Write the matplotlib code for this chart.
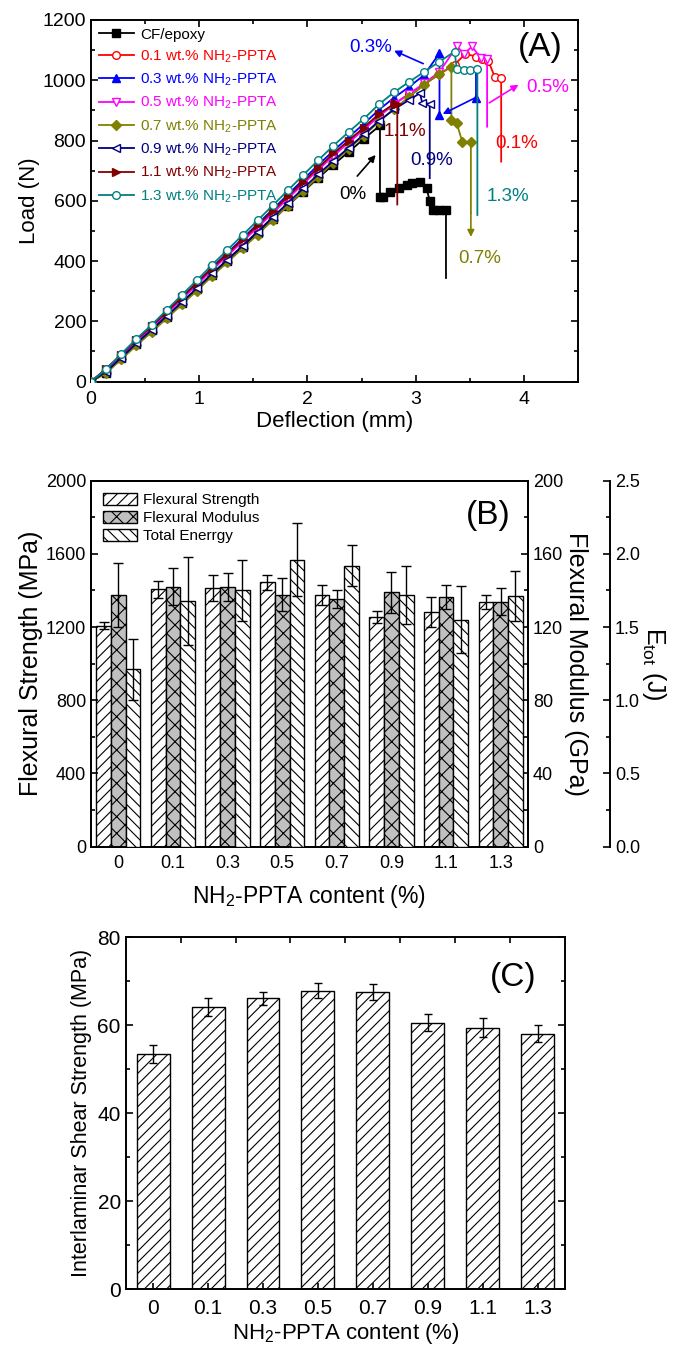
import numpy as np
import matplotlib
matplotlib.use('Agg')
import matplotlib.pyplot as plt
from matplotlib.ticker import MultipleLocator
from matplotlib.patches import Patch

plt.rcParams['font.family'] = ['Liberation Sans', 'DejaVu Sans']
plt.rcParams['mathtext.fontset'] = 'custom'
plt.rcParams['mathtext.rm'] = 'Liberation Sans'
plt.rcParams['mathtext.it'] = 'Liberation Sans:italic'
plt.rcParams['hatch.linewidth'] = 0.8
plt.rcParams['axes.linewidth'] = 1.4

# ---------------- (A) load / deflection curves ----------------
defl = [0.00, 0.14, 0.28, 0.42, 0.56, 0.70, 0.84, 0.98, 1.12, 1.26, 1.40, 1.54,
        1.68, 1.82, 1.96, 2.10, 2.24, 2.38, 2.52, 2.66, 2.80, 2.94, 3.08, 3.22, 3.36]

rise_0 = [0, 30, 78, 126, 170, 216, 262, 308, 355, 400, 446, 492, 538, 584, 630, 676, 720, 762, 805]
post_0_x = [2.67, 2.67, 2.70, 2.76, 2.85, 2.92, 2.97, 3.04, 3.10, 3.13, 3.16, 3.22, 3.28, 3.28]
post_0_y = [850, 612, 614, 630, 642, 653, 658, 663, 642, 600, 570, 568, 570, 344]

rise_01 = [0, 42, 88, 136, 180, 228, 276, 323, 372, 419, 466, 513, 561, 609, 657, 705, 751, 795,
           837, 882, 921, 955, 987, 1020, 1052]
post_01_x = [3.46, 3.56, 3.61, 3.67, 3.73, 3.79, 3.79]
post_01_y = [1088, 1078, 1070, 1065, 1012, 1007, 730]

rise_03 = [0, 40, 88, 137, 183, 232, 281, 329, 379, 427, 475, 523, 572, 621, 670, 719, 766, 811,
           855, 902, 942, 978, 1018]
post_03_x = [3.22, 3.22]
post_03_y = [1090, 885]

rise_05 = [0, 38, 85, 133, 178, 226, 274, 322, 371, 418, 465, 512, 560, 608, 656, 703, 749, 793,
           836, 880, 920, 955, 990, 1028]
post_05_x = [3.38, 3.45, 3.52, 3.60, 3.66, 3.66]
post_05_y = [1112, 1088, 1112, 1075, 1070, 846]

rise_07 = [0, 28, 74, 120, 164, 210, 256, 302, 350, 396, 442, 488, 536, 584, 632, 680, 727, 772,
           816, 862, 905, 945, 985, 1022]
post_07_x = [3.33, 3.33, 3.38, 3.43, 3.51, 3.51]
post_07_y = [1045, 868, 857, 796, 796, 560]

rise_09 = [0, 33, 80, 127, 172, 218, 264, 311, 359, 405, 451, 498, 546, 593, 641, 688, 733, 776,
           820, 865, 903, 935]
post_09_x = [3.04, 3.06, 3.13, 3.13]
post_09_y = [957, 925, 922, 675]

rise_11 = [0, 43, 90, 139, 184, 232, 280, 328, 377, 424, 472, 519, 567, 615, 663, 710, 757, 800,
           843, 888]
post_11_x = [2.81, 2.83, 2.83]
post_11_y = [924, 922, 588]

rise_13 = [0, 41, 92, 142, 188, 238, 288, 337, 388, 437, 486, 535, 585, 635, 685, 735, 783, 828,
           872, 920, 960, 995, 1028, 1062]
post_13_x = [3.36, 3.38, 3.45, 3.50, 3.57, 3.57]
post_13_y = [1095, 1036, 1034, 1034, 1036, 553]

labels_a = ['CF/epoxy', '0.1 wt.% NH$_2$-PPTA', '0.3 wt.% NH$_2$-PPTA', '0.5 wt.% NH$_2$-PPTA',
            '0.7 wt.% NH$_2$-PPTA', '0.9 wt.% NH$_2$-PPTA', '1.1 wt.% NH$_2$-PPTA',
            '1.3 wt.% NH$_2$-PPTA']
short_a = ['0%', '0.1%', '0.3%', '0.5%', '0.7%', '0.9%', '1.1%', '1.3%']

# ---------------- (B) flexural properties ----------------
content = ['0', '0.1', '0.3', '0.5', '0.7', '0.9', '1.1', '1.3']
strength = [1208, 1406, 1415, 1445, 1375, 1255, 1284, 1336]
strength_err = [18, 47, 70, 40, 55, 33, 82, 39]
modulus = [137.5, 142.0, 141.7, 137.7, 135.5, 139.0, 136.6, 133.9]
modulus_err = [17.7, 10.0, 7.7, 9.0, 5.0, 11.3, 6.6, 7.3]
energy = [1.21, 1.68, 1.75, 1.96, 1.92, 1.72, 1.55, 1.71]
energy_err = [0.21, 0.30, 0.21, 0.25, 0.14, 0.20, 0.23, 0.17]

# ---------------- (C) ILSS ----------------
ilss = [53.5, 64.1, 66.1, 67.9, 67.6, 60.6, 59.5, 58.1]
ilss_err = [2.0, 2.0, 1.5, 1.8, 1.8, 2.0, 2.2, 2.0]

fig = plt.figure(figsize=(6.74, 13.49), dpi=100)

# ======== panel A ========
ax = fig.add_axes([0.135, 0.7171, 0.7226, 0.2681])
colors = ['black', '#ff0000', '#0000ff', '#ff00ff', '#808000', '#000080', '#800000', '#008080']
markers = ['s', 'o', '^', 'v', 'D', '<', '>', 'o']
filled = [True, False, True, False, True, False, True, False]
rises = [rise_0, rise_01, rise_03, rise_05, rise_07, rise_09, rise_11, rise_13]
posts_x = [post_0_x, post_01_x, post_03_x, post_05_x, post_07_x, post_09_x, post_11_x, post_13_x]
posts_y = [post_0_y, post_01_y, post_03_y, post_05_y, post_07_y, post_09_y, post_11_y, post_13_y]

for i in range(8):
    xs = defl[:len(rises[i])] + posts_x[i]
    ys = rises[i] + posts_y[i]
    # no marker on the end of the final drop (except the 0.3% curve)
    n_mark = len(xs) if i == 2 else len(xs) - 1
    ax.plot(xs, ys, color=colors[i], marker=markers[i], ms=5.5, mew=1.0, lw=1.3,
            mfc=colors[i] if filled[i] else 'white', label=labels_a[i], zorder=2 + i,
            markevery=list(range(n_mark)))

# extra blue segment with arrow (0.3%)
ax.plot([3.56, 3.56], [1045, 940], color='#0000ff', lw=1.3, marker='^', ms=5.5,
        markevery=[1], zorder=4)

def arrow(x0, y0, x1, y1, c):
    ax.annotate('', xy=(x1, y1), xytext=(x0, y0),
                arrowprops=dict(arrowstyle='-|>', color=c, lw=1.2, mutation_scale=10,
                                shrinkA=0, shrinkB=0), zorder=20)

arrow(3.07, 1055, 2.80, 1098, '#0000ff')
arrow(3.54, 940, 3.25, 888, '#0000ff')
arrow(3.68, 925, 3.95, 985, '#ff00ff')
arrow(2.46, 682, 2.63, 752, 'black')
arrow(3.51, 560, 3.51, 480, '#808000')

txt_pos = [(2.42, 620), (3.93, 790), (2.58, 1110), (4.22, 975), (3.59, 409),
           (3.15, 735), (2.90, 830), (3.85, 613)]
for i in range(8):
    ax.text(txt_pos[i][0], txt_pos[i][1], short_a[i], color=colors[i], fontsize=13.5,
            ha='center', va='center', zorder=21)

ax.set_xlim(0, 4.5)
ax.set_ylim(0, 1200)
ax.xaxis.set_major_locator(MultipleLocator(1))
ax.xaxis.set_minor_locator(MultipleLocator(0.5))
ax.yaxis.set_major_locator(MultipleLocator(200))
ax.yaxis.set_minor_locator(MultipleLocator(100))
ax.tick_params(which='both', direction='in', top=True, right=True, labelsize=14, width=1.2)
ax.tick_params(which='major', length=5)
ax.tick_params(which='minor', length=3)
ax.tick_params(axis='x', pad=7)
ax.set_xlabel('Deflection (mm)', fontsize=16, labelpad=2)
ax.set_ylabel('Load (N)', fontsize=16, labelpad=2)
ax.text(0.922, 0.925, '(A)', transform=ax.transAxes, fontsize=24, ha='center', va='center')
ax.legend(loc='upper left', bbox_to_anchor=(0.0, 1.0), frameon=False, fontsize=11,
          handlelength=2.3, handletextpad=0.4, labelspacing=0.45, labelcolor='linecolor',
          borderaxespad=0.1)

# ======== panel B ========
x = np.arange(len(content))
w = 0.27
axb = fig.add_axes([0.135, 0.3724, 0.6484, 0.2713])
axm = axb.twinx()
axe = axb.twinx()
axe.spines['right'].set_position(('axes', 1.188))

ek = dict(ecolor='black', elinewidth=1.0, capsize=3.5, capthick=1.0)
b1 = axb.bar(x - w, strength, w, yerr=strength_err, color='white', edgecolor='black',
             hatch='///', lw=1.0, error_kw=ek)
b2 = axm.bar(x, modulus, w, yerr=modulus_err, color='#c0c0c0', edgecolor='black',
             hatch='xx', lw=1.0, error_kw=ek)
b3 = axe.bar(x + w, energy, w, yerr=energy_err, color='white', edgecolor='black',
             hatch='\\\\\\', lw=1.0, error_kw=ek)

axb.set_xlim(-0.5, 7.5)
axb.set_ylim(0, 2000)
axm.set_ylim(0, 200)
axe.set_ylim(0, 2.5)
axb.set_xticks(x)
axb.set_xticklabels(content)
axb.yaxis.set_major_locator(MultipleLocator(400))
axb.yaxis.set_minor_locator(MultipleLocator(200))
axm.yaxis.set_major_locator(MultipleLocator(40))
axm.yaxis.set_minor_locator(MultipleLocator(20))
axe.yaxis.set_major_locator(MultipleLocator(0.5))
axe.yaxis.set_minor_locator(MultipleLocator(0.25))
axe.yaxis.set_major_formatter(matplotlib.ticker.FormatStrFormatter('%.1f'))
for a in (axb, axm, axe):
    a.tick_params(which='both', direction='in', labelsize=13, width=1.2)
    a.tick_params(which='major', length=5)
    a.tick_params(which='minor', length=3)
axb.tick_params(axis='x', length=0, pad=6)
for s in ('top', 'left', 'bottom'):
    axe.spines[s].set_visible(False)
axb.set_ylabel('Flexural Strength (MPa)', fontsize=18, labelpad=2)
axm.set_ylabel('Flexural Modulus (GPa)', fontsize=18, rotation=270, labelpad=18)
axe.set_ylabel('E$_{\\mathrm{tot}}$ (J)', fontsize=18, rotation=270, labelpad=20)
axb.set_xlabel('NH$_2$-PPTA content (%)', fontsize=16.5, labelpad=8)
axb.text(0.908, 0.906, '(B)', transform=axb.transAxes, fontsize=24, ha='center', va='center')
handles = [Patch(facecolor='white', edgecolor='black', hatch='///'),
           Patch(facecolor='#c0c0c0', edgecolor='black', hatch='xx'),
           Patch(facecolor='white', edgecolor='black', hatch='\\\\\\')]
axe.legend(handles, ['Flexural Strength', 'Flexural Modulus', 'Total Enerrgy'],
           loc='upper left', bbox_to_anchor=(0.0, 1.0), frameon=False, fontsize=11,
           handlelength=2.2, handleheight=0.8, handletextpad=0.4, labelspacing=0.25,
           borderaxespad=0.4)

# ======== panel C ========
axc = fig.add_axes([0.1865, 0.04426, 0.6518, 0.2609])
axc.bar(x, ilss, 0.6, yerr=ilss_err, color='white', edgecolor='black', hatch='///', lw=1.0,
        error_kw=dict(ecolor='black', elinewidth=1.0, capsize=3, capthick=1.0))
axc.set_xlim(-0.5, 7.5)
axc.set_ylim(0, 80)
axc.set_xticks(x)
axc.set_xticklabels(content)
axc.set_xticks(x[:-1] + 0.5, minor=True)
axc.yaxis.set_major_locator(MultipleLocator(20))
axc.yaxis.set_minor_locator(MultipleLocator(10))
axc.tick_params(which='both', direction='in', labelsize=15, width=1.2, right=True)
axc.tick_params(axis='x', which='major', top=False, bottom=True, length=4, pad=7)
axc.tick_params(axis='x', which='minor', top=True, bottom=False, length=4)
axc.tick_params(axis='y', which='major', length=5)
axc.tick_params(axis='y', which='minor', length=3)
axc.set_xlabel('NH$_2$-PPTA content (%)', fontsize=16, labelpad=2)
axc.set_ylabel('Interlaminar Shear Strength (MPa)', fontsize=15.5, labelpad=4)
axc.text(0.882, 0.887, '(C)', transform=axc.transAxes, fontsize=24, ha='center', va='center')

fig.savefig('out.png', dpi=100)
